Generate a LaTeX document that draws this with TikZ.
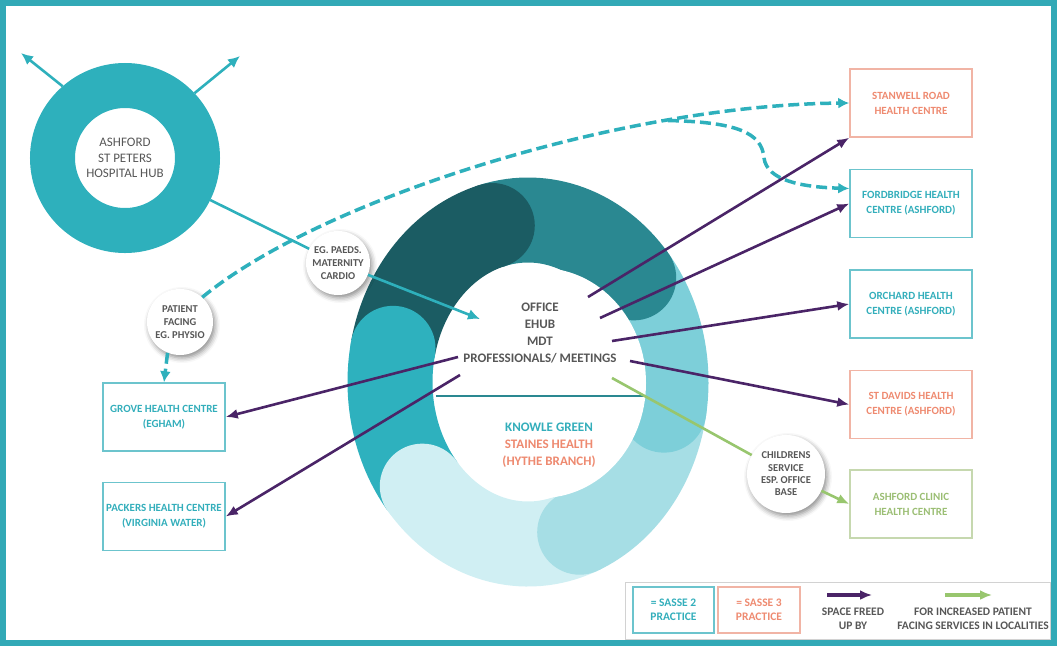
\documentclass[tikz,border=0pt]{standalone}
\usepackage{fontspec}
\setmainfont{Carlito}
\usetikzlibrary{
    arrows.meta,
    calc,
    positioning,
    shapes.geometric,
    shadows.blur
}
\definecolor{frameteal}{HTML}{32A9B6}
\definecolor{hubteal}{HTML}{2EB0BC}
\definecolor{segdark}{HTML}{1B5C63}
\definecolor{segmid}{HTML}{2A8891}
\definecolor{seglight}{HTML}{7DCFD9}
\definecolor{segpale}{HTML}{A6DEE5}
\definecolor{segfaint}{HTML}{D0EFF3}
\definecolor{segteal}{HTML}{2EB1BE}
\definecolor{freedpurple}{HTML}{4A2467}
\definecolor{leafgreen}{HTML}{98C66E}
\definecolor{sassetwo}{HTML}{33AEBB}
\definecolor{sassetwoline}{HTML}{6CC4CD}
\definecolor{sassethree}{HTML}{EE8A70}
\definecolor{sassethreeline}{HTML}{F1B4A5}
\definecolor{clinictext}{HTML}{9BBE74}
\definecolor{clinicline}{HTML}{C6D8AF}
\definecolor{labelgray}{HTML}{575757}
\newcommand{\boxfont}{\fontsize{11}{15}\selectfont\bfseries}
\newcommand{\keyfont}{\fontsize{11.5}{13.5}\selectfont\bfseries}
\tikzset{
    sitebox/.style={draw, line width=1.5pt, minimum width=122pt, minimum height=68pt,
        inner sep=0pt, align=center, font=\boxfont},
    sassetwobox/.style={sitebox, draw=sassetwoline, text=sassetwo},
    sassethreebox/.style={sitebox, draw=sassethreeline, text=sassethree},
    clinicbox/.style={sitebox, draw=clinicline, text=clinictext},
    bubble/.style={circle, fill=white, inner sep=0pt, align=center, text=labelgray,
        font=\fontsize{10.5}{13}\selectfont\bfseries,
        blur shadow={shadow xshift=2pt, shadow yshift=-3pt, shadow blur radius=5pt, shadow opacity=45}},
    freed/.style={draw=freedpurple, line width=2.6pt, -{Latex[length=12pt, width=10pt]}},
    facing/.style={draw=leafgreen, line width=2.6pt, -{Latex[length=12pt, width=10pt]}},
    hubline/.style={draw=hubteal, line width=2.6pt, -{Latex[length=12pt, width=11pt]}},
    outreach/.style={draw=hubteal, line width=3.5pt, dash pattern=on 11pt off 5pt,
        -{Latex[length=11pt, width=11pt]}}
}

\begin{document}
\begin{tikzpicture}[x=1pt, y=-1pt]
    \useasboundingbox (0,0) rectangle (1057,646);
    \draw[frameteal, line width=6pt] (3,3) rectangle (1054,643);

    % the office ring, one swoosh per segment
    \begin{scope}[shift={(528,382)}, yscale=-1]
        \foreach \c/\a/\b in {segdark/168/105, segmid/105/40, seglight/40/-10,
                segpale/-10/-68, segfaint/-68/-140, segteal/-140/-192}
            \draw[\c, line width=85pt] (\a:138 and 162) arc[start angle=\a, end angle=\b, x radius=138, y radius=162];
        \foreach \c/\b in {segdark/105, segmid/40, seglight/-10, segpale/-68, segfaint/-140, segteal/-192}
            \fill[\c] (\b:138 and 162) circle[radius=42.5];
    \end{scope}
    \node[ellipse, fill=white, minimum width=210pt, minimum height=230pt, inner sep=0pt] (core) at (541,383) {};
    \draw[segmid, line width=2pt] ([yshift=-13pt]core.west) -- ([yshift=-13pt]core.east);
    \node[font=\fontsize{13}{16.7}\selectfont\bfseries, text=labelgray, align=center] (tasks) at (540,333)
        {OFFICE\\EHUB\\MDT\\PROFESSIONALS/ MEETINGS};
    \node[font=\fontsize{13}{17}\selectfont\bfseries, align=center] (base) at (549,445)
        {\textcolor{sassetwo}{KNOWLE GREEN}\\\textcolor{sassethree}{STAINES HEALTH}\\\textcolor{sassethree}{(HYTHE BRANCH)}};

    % hospital hub
    \node[circle, draw=hubteal, line width=45pt, minimum size=145pt, inner sep=0pt, align=center,
        text=labelgray, font=\fontsize{13}{15.5}\selectfont] (hub) at (125,158)
        {ASHFORD\\ST PETERS\\HOSPITAL HUB};
    \coordinate (hubnw) at (21,53);
    \coordinate (hubne) at (240,56);
    \draw[hubline] (hub.131) -- (hubnw);
    \draw[hubline] (hub.43) -- (hubne);

    % sites
    \node[sassethreebox] (stanwell) at (911,103) {STANWELL ROAD\\HEALTH CENTRE};
    \node[sassetwobox, below=31pt of stanwell] (fordbridge) {FORDBRIDGE HEALTH\\CENTRE (ASHFORD)};
    \node[sassetwobox, below=31pt of fordbridge] (orchard) {ORCHARD HEALTH\\CENTRE (ASHFORD)};
    \node[sassethreebox, below=31pt of orchard] (stdavids) {ST DAVIDS HEALTH\\CENTRE (ASHFORD)};
    \node[clinicbox, below=30pt of stdavids] (clinic) {ASHFORD CLINIC\\HEALTH CENTRE};
    \node[sassetwobox] (grove) at (164,417) {GROVE HEALTH CENTRE\\(EGHAM)};
    \node[sassetwobox, below=30pt of grove] (packers) {PACKERS HEALTH CENTRE\\(VIRGINIA WATER)};

    % service bubbles
    \node[bubble, minimum size=64pt] (paeds) at (338,263) {EG. PAEDS.\\MATERNITY\\CARDIO};
    \node[bubble, minimum size=66pt] (physio) at (180,322) {PATIENT\\FACING\\EG. PHYSIO};
    \node[bubble, minimum size=78pt, font=\fontsize{10.5}{12.3}\selectfont\bfseries] (kids) at (786,474)
        {CHILDRENS\\SERVICE\\ESP. OFFICE\\BASE};

    \coordinate (intake) at (480,319);
    \draw[hubline, -] (hub) -- (paeds);
    \draw[hubline] (paeds) -- (intake);

    \draw[outreach] (physio.48) .. controls (320,200) and (620,105) .. coordinate[pos=0.75] (fork) (stanwell.west);
    \draw[outreach] (fork) .. controls (735,122) and (762,132) .. (764,158)
        .. controls (767,180) and (800,187) .. ([yshift=15pt]fordbridge.west);
    \draw[outreach] (physio.-112) -- (grove.north);

    \coordinate (f1) at (588,297);
    \coordinate (f2) at (600,318);
    \coordinate (f3) at (612,341);
    \coordinate (f4) at (630,361);
    \coordinate (f5) at (458,357);
    \coordinate (f6) at (460,375);
    \coordinate (g1) at (612,378);
    \draw[freed] (f1) -- (stanwell.south west);
    \draw[freed] (f2) -- (fordbridge.west);
    \draw[freed] (f3) -- (orchard.west);
    \draw[freed] (f4) -- (stdavids.west);
    \draw[freed] (f5) -- (grove.east);
    \draw[freed] (f6) -- (packers.east);
    \draw[facing, -] (g1) -- (kids);
    \draw[facing] (kids) -- (clinic.west);

    % key
    \draw[gray!35, line width=1pt] (625,582) rectangle (1050,639);
    \node[sassetwobox, line width=2pt, minimum width=81pt, minimum height=46pt, font=\keyfont] (keytwo) at (673.5,610) {= SASSE 2\\PRACTICE};
    \node[sassethreebox, line width=2pt, minimum width=82pt, minimum height=46pt, font=\keyfont] (keythree) at (759,610) {= SASSE 3\\PRACTICE};
    \coordinate (kf1) at (827,595);
    \coordinate (kf2) at (872,595);
    \coordinate (kg1) at (945,595);
    \coordinate (kg2) at (992,595);
    \draw[freed, line width=3.2pt] (kf1) -- (kf2);
    \draw[facing, line width=3.2pt] (kg1) -- (kg2);
    \node[font=\keyfont, text=labelgray, align=center] (keyfreed) at (853,619) {SPACE FREED\\UP BY};
    \node[font=\keyfont, text=labelgray, align=center] (keyfacing) at (973,619) {FOR INCREASED PATIENT\\FACING SERVICES IN LOCALITIES};
\end{tikzpicture}
\end{document}
